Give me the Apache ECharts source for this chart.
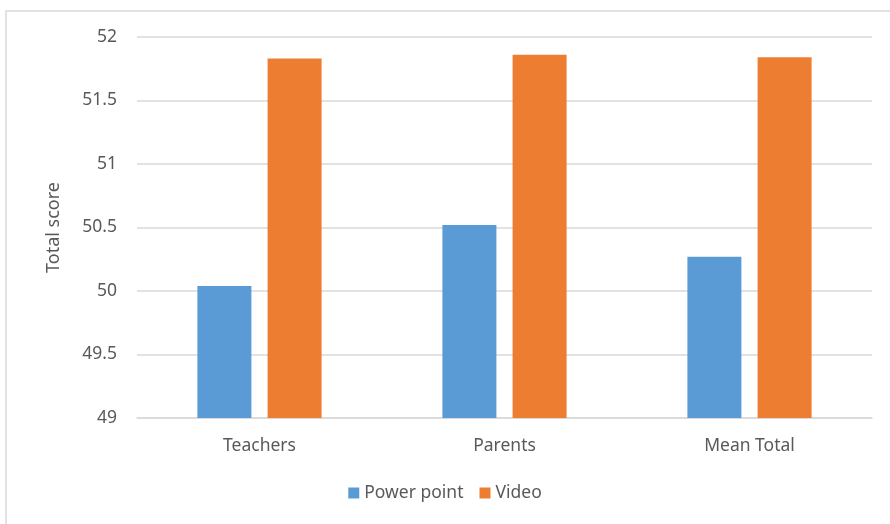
<!DOCTYPE html>
<html>
<head>
    <meta charset="utf-8">
    <script src="https://cdn.jsdelivr.net/npm/echarts@6.0.0/dist/echarts.min.js"></script>
    <style>
        body { margin: 0; background: #fff; }
        #chart { width: 890px; height: 524px; }
    </style>
</head>
<body>
<div id="chart"></div>
<script>
    const categories = ['Teachers', 'Parents', 'Mean Total']
    const powerPoint = [50.04, 50.52, 50.27]
    const video = [51.83, 51.86, 51.84]
    const yTicks = { min: 49, max: 52, step: 0.5 }

    const chart = echarts.init(document.getElementById('chart'))
    const font = 'Noto Sans'
    const option = {
        animation: false,
        textStyle: { fontFamily: font },
        graphic: [{
            type: 'rect',
            shape: { x: 6, y: 11, width: 900, height: 600 },
            style: { fill: 'none', stroke: '#d9d9d9', lineWidth: 1.5 },
            silent: true
        }],
        grid: { left: 137, right: 18, top: 37, bottom: 106 },
        legend: {
            bottom: 17,
            left: 'center',
            itemWidth: 11,
            itemHeight: 11,
            itemGap: 16,
            icon: 'rect',
            textStyle: { color: '#595959', fontSize: 17.5, fontFamily: font }
        },
        xAxis: {
            type: 'category',
            data: categories,
            axisLine: { lineStyle: { color: '#d9d9d9', width: 1.5 } },
            axisTick: { show: false },
            axisLabel: { color: '#595959', fontSize: 17.5, margin: 19 }
        },
        yAxis: {
            type: 'value',
            min: yTicks.min,
            max: yTicks.max,
            interval: yTicks.step,
            name: 'Total score',
            nameLocation: 'middle',
            nameGap: 74,
            nameTextStyle: { color: '#595959', fontSize: 18, fontFamily: font },
            axisLine: { show: false },
            axisTick: { show: false },
            axisLabel: { color: '#595959', fontSize: 17.5, margin: 20 },
            splitLine: { lineStyle: { color: '#d9d9d9', width: 1.5 } }
        },
        series: [{
            name: 'Power point',
            type: 'bar',
            data: powerPoint,
            barWidth: 54,
            barGap: '30%',
            itemStyle: { color: '#5b9bd5' }
        }, {
            name: 'Video',
            type: 'bar',
            data: video,
            barWidth: 54,
            itemStyle: { color: '#ed7d31' }
        }]
    }
    chart.setOption(option)
</script>
</body>
</html>
